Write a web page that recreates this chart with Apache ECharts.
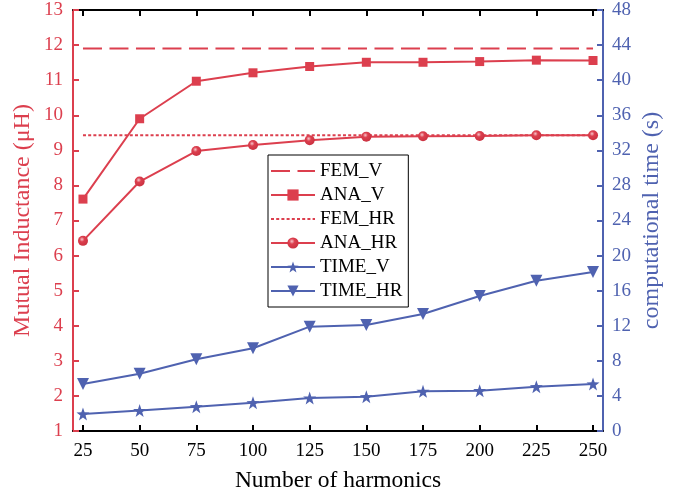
<!DOCTYPE html>
<html>
<head>
<meta charset="utf-8">
<script src="https://cdn.jsdelivr.net/npm/echarts@6/dist/echarts.min.js"></script>
<style>html,body{margin:0;padding:0;background:#fff}#c{width:679px;height:495px}</style>
</head>
<body>
<div id="c"></div>
<script>
var harmonics = [25, 50, 75, 100, 125, 150, 175, 200, 225, 250];
var FEM_V  = [11.9, 11.9, 11.9, 11.9, 11.9, 11.9, 11.9, 11.9, 11.9, 11.9];
var ANA_V  = [7.61, 9.9, 10.97, 11.21, 11.39, 11.51, 11.51, 11.53, 11.57, 11.56];
var FEM_HR = [9.43, 9.43, 9.43, 9.43, 9.43, 9.43, 9.43, 9.43, 9.43, 9.43];
var ANA_HR = [6.42, 8.11, 8.98, 9.15, 9.29, 9.39, 9.4, 9.41, 9.43, 9.43];
var TIME_V  = [1.94, 2.33, 2.77, 3.23, 3.76, 3.91, 4.52, 4.6, 5.05, 5.36];
var TIME_HR = [5.36, 6.53, 8.17, 9.43, 11.9, 12.09, 13.34, 15.39, 17.14, 18.13];
var leftTicks = [1, 13, 1];
var rightTicks = [0, 48, 4];

var RED = '#dc3f4e';
var BLUE = '#4f62b0';
var FONT = '"Liberation Serif", "Times New Roman", serif';
var STAR = 'path://M0,-10 L2.35,-3.24 L9.51,-3.09 L3.8,1.24 L5.88,8.09 L0,4 L-5.88,8.09 L-3.8,1.24 L-9.51,-3.09 L-2.35,-3.24 Z';
var DASH_V = [19, 7.5];
var DASH_HR = [3, 2.2];

function pairs(ys) { return harmonics.map(function (x, i) { return [x, ys[i]]; }); }

var chart = echarts.init(document.getElementById('c'), null, {renderer: 'canvas'});
var xCommon = {
  type: 'value', min: 20.6, max: 254.4,
  splitLine: {show: false}
};
chart.setOption({
  animation: false,
  backgroundColor: '#fff',
  grid: {left: 73, right: 76, top: 10, bottom: 64, containLabel: false, outerBoundsMode: 'none'},
  legend: {
    orient: 'vertical', left: 268, top: 155,
    backgroundColor: '#fff', borderColor: '#000', borderWidth: 1,
    padding: [6, 6, 6, 2],
    itemWidth: 44, itemHeight: 14, itemGap: 4,
    textStyle: {fontFamily: FONT, fontSize: 19, color: '#000', lineHeight: 20},
    data: [
      {name: 'FEM_V', itemStyle: {opacity: 0}, lineStyle: {type: DASH_V, width: 2}},
      {name: 'ANA_V'},
      {name: 'FEM_HR', itemStyle: {opacity: 0}, lineStyle: {type: DASH_HR, width: 2}},
      {name: 'ANA_HR'},
      {name: 'TIME_V'},
      {name: 'TIME_HR'}
    ]
  },
  xAxis: [
    Object.assign({}, xCommon, {
      position: 'bottom',
      name: 'Number of harmonics', nameLocation: 'middle', nameGap: 38, nameMoveOverlap: false,
      nameTextStyle: {fontFamily: FONT, fontSize: 23.5, color: '#000'},
      axisLine: {lineStyle: {color: '#000', width: 2}},
      axisTick: {inside: true, length: 6, lineStyle: {color: '#000', width: 2}, customValues: harmonics},
      axisLabel: {fontFamily: FONT, fontSize: 19, color: '#000', margin: 11, customValues: harmonics}
    }),
    Object.assign({}, xCommon, {
      position: 'top',
      axisLine: {lineStyle: {color: '#000', width: 2}},
      axisTick: {inside: true, length: 6, lineStyle: {color: '#000', width: 2}, customValues: harmonics},
      axisLabel: {show: false}
    })
  ],
  yAxis: [
    {
      type: 'value', position: 'left',
      min: leftTicks[0], max: leftTicks[1], interval: leftTicks[2],
      name: 'Mutual Inductance (\u03bcH)', nameLocation: 'middle', nameGap: 38, nameMoveOverlap: false,
      nameTextStyle: {fontFamily: FONT, fontSize: 24, color: RED},
      axisLine: {show: true, lineStyle: {color: RED, width: 2}},
      axisTick: {show: true, inside: true, length: 6, lineStyle: {color: RED, width: 2}},
      axisLabel: {fontFamily: FONT, fontSize: 19, color: RED, margin: 10},
      splitLine: {show: false}
    },
    {
      type: 'value', position: 'right',
      min: rightTicks[0], max: rightTicks[1], interval: rightTicks[2],
      name: 'computational time (s)', nameLocation: 'middle', nameGap: 37, nameMoveOverlap: false,
      nameTextStyle: {fontFamily: FONT, fontSize: 24, color: BLUE},
      axisLine: {show: true, lineStyle: {color: BLUE, width: 2}},
      axisTick: {show: true, inside: true, length: 6, lineStyle: {color: BLUE, width: 2}},
      axisLabel: {fontFamily: FONT, fontSize: 19, color: BLUE, margin: 9},
      splitLine: {show: false}
    }
  ],
  series: [
    {
      name: 'FEM_V', type: 'line', yAxisIndex: 0, data: pairs(FEM_V),
      showSymbol: false, symbol: 'none',
      lineStyle: {color: RED, width: 2, type: DASH_V}, itemStyle: {color: RED}
    },
    {
      name: 'ANA_V', type: 'line', yAxisIndex: 0, data: pairs(ANA_V),
      symbol: 'rect', symbolSize: 9,
      lineStyle: {color: RED, width: 2}, itemStyle: {color: RED}
    },
    {
      name: 'FEM_HR', type: 'line', yAxisIndex: 0, data: pairs(FEM_HR),
      showSymbol: false, symbol: 'none',
      lineStyle: {color: RED, width: 2, type: DASH_HR}, itemStyle: {color: RED}
    },
    {
      name: 'ANA_HR', type: 'line', yAxisIndex: 0, data: pairs(ANA_HR),
      symbol: 'circle', symbolSize: 10,
      lineStyle: {color: RED, width: 2},
      itemStyle: {color: {type: 'radial', x: 0.4, y: 0.35, r: 0.7,
        colorStops: [{offset: 0, color: '#f7c6cb'}, {offset: 0.35, color: RED}, {offset: 1, color: '#c8303f'}]}}
    },
    {
      name: 'TIME_V', type: 'line', yAxisIndex: 1, data: pairs(TIME_V),
      symbol: STAR, symbolSize: 13,
      lineStyle: {color: BLUE, width: 2}, itemStyle: {color: BLUE}
    },
    {
      name: 'TIME_HR', type: 'line', yAxisIndex: 1, data: pairs(TIME_HR),
      symbol: 'triangle', symbolRotate: 180, symbolSize: 12,
      lineStyle: {color: BLUE, width: 2}, itemStyle: {color: BLUE}
    }
  ]
});
</script>
</body>
</html>
